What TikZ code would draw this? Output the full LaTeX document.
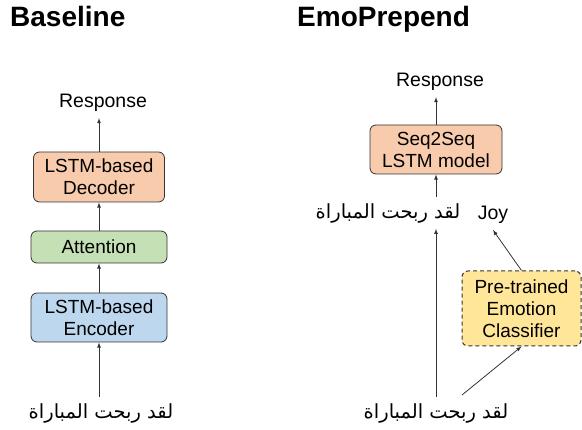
\documentclass[tikz,border=0pt]{standalone}
\usepackage{fontspec}
\setmainfont{Liberation Sans}
\newfontfamily\arabicfont[Script=Arabic]{DejaVu Sans}
\TeXXeTstate=1
\usetikzlibrary{positioning}

\definecolor{decfill}{HTML}{F8CBAD}
\definecolor{attfill}{HTML}{C5E0B4}
\definecolor{encfill}{HTML}{BDD7EE}
\definecolor{clsfill}{HTML}{FFE699}

\tikzset{
	block/.style = {draw = black!80, rounded corners = 6pt, line width = 0.8pt, align = center, inner sep = 0pt, font = \fontsize{19}{22}\selectfont},
	lbl/.style = {font = \fontsize{19.5}{22}\selectfont, inner sep = 0pt, outer sep = 6pt},
	title/.style = {font = \fontsize{28}{30}\selectfont\bfseries, inner sep = 0pt, anchor = base west},
	link/.style = {->, line width = 0.8pt, black!80}
}

\newcommand{\utter}{\arabicfont\beginR لقد ربحت المباراة\endR}

\begin{document}
\begin{tikzpicture}[> = latex, x = 1pt, y = -1pt]

	\useasboundingbox (0, 0) rectangle (582, 430);

	% Titles

	\node [title] (tbase) at (10, 27) {Baseline};
	\node [title] (temo) at (297, 27) {EmoPrepend};

	% Baseline: encoder, attention, decoder

	\node [block, fill = decfill, minimum width = 131pt, minimum height = 50pt] (dec) at (99, 177) {LSTM-based\\Decoder};
	\node [block, fill = attfill, minimum width = 136pt, minimum height = 32pt] (att) at (99, 247) {Attention};
	\node [block, fill = encfill, minimum width = 136pt, minimum height = 49pt] (enc) at (99, 317.5) {LSTM-based\\Encoder};
	\node [lbl, anchor = base] (respL) at (103, 108) {Response};
	\node [lbl] (inL) at (101, 413) {\utter};

	\begin{scope}[link]

		\draw (dec.north) -- (dec.north |- respL.south);
		\draw (att.north) -- (dec.south);
		\draw (enc.north) -- (att.south);
		\draw (enc.south |- inL.north) -- (enc.south);

	\end{scope}

	% EmoPrepend: classifier output put in front of the input

	\node [block, fill = decfill, minimum width = 132pt, minimum height = 49pt] (s2s) at (436, 149.5) {Seq2Seq\\LSTM model};
	\node [lbl, anchor = base] (respR) at (440, 87) {Response};
	\node [lbl] (inTop) at (388, 213) {\utter};
	\node [lbl, anchor = base] (joy) at (493, 220) {Joy};
	\node [block, dashed, dash pattern = on 4pt off 3pt, line width = 1pt, fill = clsfill, minimum width = 119pt, minimum height = 75pt] (cls) at (521.5, 308.5) {Pre-trained\\Emotion\\Classifier};
	\node [lbl] (inR) at (436, 413) {\utter};
	\coordinate (clsin) at (462, 395);

	\begin{scope}[link]

		\draw (s2s.north) -- (s2s.north |- respR.south);
		\draw (s2s.south |- inTop.north) -- (s2s.south);
		\draw (s2s.south |- inR.north) -- (s2s.south |- inTop.south);
		\draw (clsin) -- (cls.south);
		\draw (cls.north) -- (joy.south);

	\end{scope}

\end{tikzpicture}
\end{document}
